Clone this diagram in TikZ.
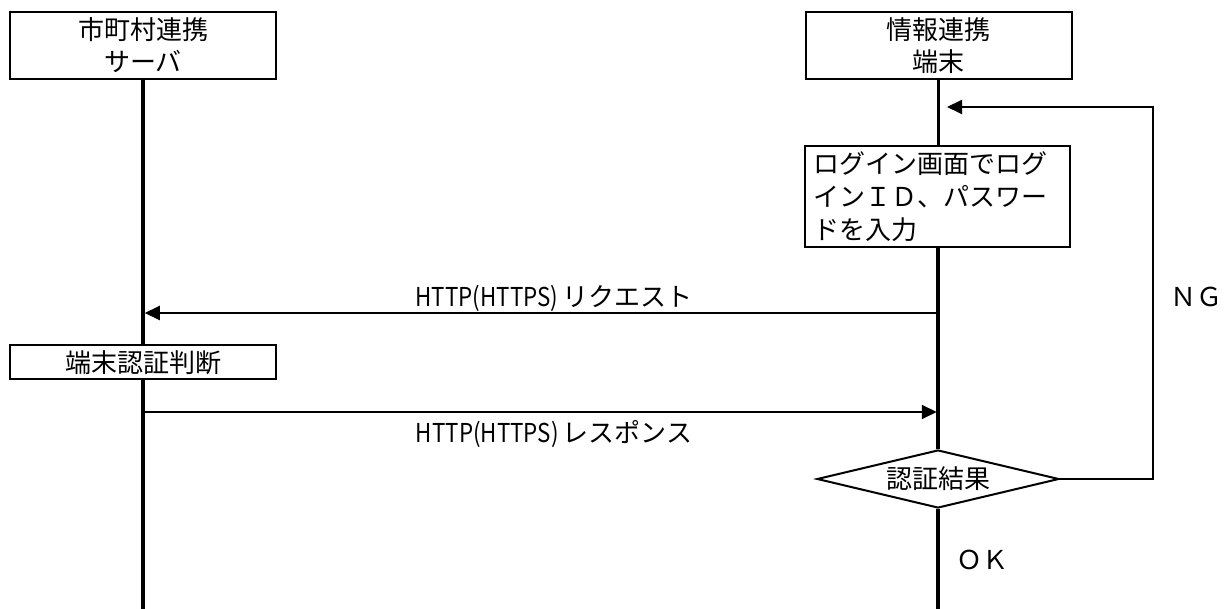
\documentclass[tikz,border=0pt]{standalone}
\usepackage{fontspec}
\usepackage{graphicx}
\newfontfamily\jpfont{Noto Sans CJK JP}
\usetikzlibrary{arrows.meta,shapes.geometric}
\newcommand{\httplbl}{\scalebox{0.86}[1]{HTTP(HTTPS)}\hspace{4pt}}

\begin{document}
\begin{tikzpicture}[x=1pt,y=-1pt,
  every node/.style={font=\jpfont\fontsize{26}{32}\selectfont},
  actor/.style={draw,line width=2pt,fill=white,minimum width=266pt,minimum height=67pt,align=center,inner sep=0pt},
  proc/.style={draw,line width=2pt,fill=white,inner sep=0pt},
  life/.style={line width=3.5pt},
  msg/.style={line width=2pt,-{Triangle[length=15pt,width=14pt]}},
  decide/.style={draw,diamond,line width=2pt,aspect=4.17,minimum width=242pt,minimum height=58pt,inner sep=0pt}]
\useasboundingbox (0,0) rectangle (1224,609);
% actors
\node[actor] (srv) at (143,45.5) {市町村連携\\サーバ};
\node[actor] (trm) at (938.5,45.5) {情報連携\\端末};
% steps
\node[proc,anchor=north west,text width=249pt,minimum height=101pt,align=left,inner xsep=8pt,
  font=\jpfont\fontsize{26}{33}\selectfont] (login) at (804,145) {ログイン画面でログ\\インＩＤ、パスワー\\ドを入力};
\node[proc,minimum width=266pt,minimum height=34pt] (judge) at (143,362.5) {端末認証判断};
\node[decide] (chk) at (938,479) {認証結果};
\coordinate (bot) at (0,609);
% lifelines
\draw[life] (srv.south) -- (judge.north);
\draw[life] (judge.south) -- (srv |- bot);
\draw[life] (trm.south) -- (trm.south |- login.north);
\draw[life] (login.south -| chk) -- (chk.north);
\draw[life] (chk.south) -- (chk |- bot);
% messages
\coordinate (rq) at (0,313);
\coordinate (rs) at (0,412);
\draw[msg,shorten >=1.75pt] (trm |- rq) -- (srv |- rq);
\draw[msg,shorten >=1.75pt] (srv |- rs) -- (trm |- rs);
\node (lrq) at (554,298) {\httplbl リクエスト};
\node (lrs) at (554,434) {\httplbl レスポンス};
% NG loop
\coordinate (ngc) at (1153,107);
\coordinate (back) at (947,107);
\draw[msg] (chk.east) -| (ngc) -- (back);
\node (ng) at (1196,297) {ＮＧ};
\node (ok) at (982,560) {ＯＫ};
\end{tikzpicture}
\end{document}
